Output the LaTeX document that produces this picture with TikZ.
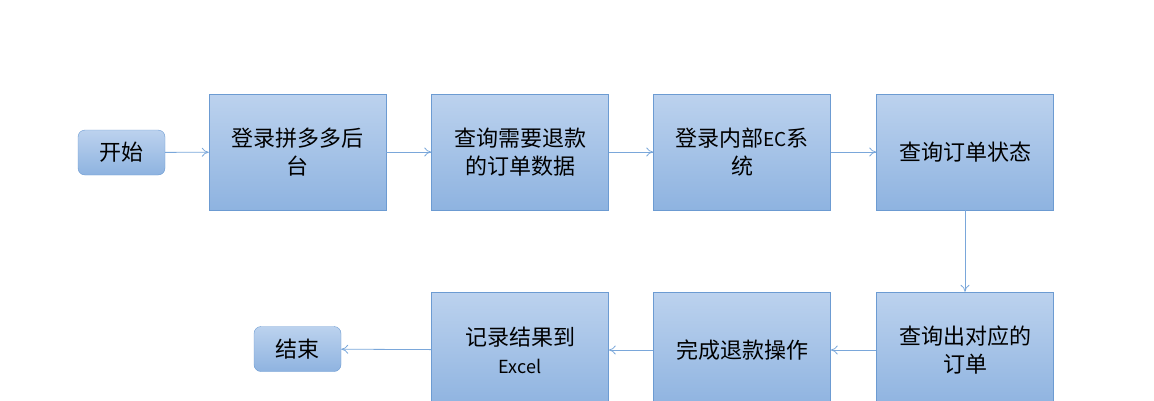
\documentclass[tikz,border=0pt]{standalone}
\usepackage{fontspec}
\setmainfont{Noto Sans CJK SC}
\usetikzlibrary{positioning,arrows.meta}
\definecolor{boxline}{HTML}{6C9BD2}
\definecolor{boxtop}{HTML}{BCD2EE}
\definecolor{boxbot}{HTML}{8EB3E0}
\definecolor{arrowcol}{HTML}{7AA7DA}
\tikzset{
  stepbox/.style={draw=boxline, top color=boxtop, bottom color=boxbot,
    minimum width=177pt, minimum height=116pt, align=center,
    font=\fontsize{22}{28}\selectfont, inner sep=2pt},
  endbox/.style={stepbox, rounded corners=7pt, minimum width=87pt, minimum height=45pt},
  flow/.style={draw=arrowcol, -{To[length=7pt,width=9pt]}, line width=0.8pt}
}
\begin{document}
\begin{tikzpicture}[x=1pt,y=-1pt]
\useasboundingbox (0,0) rectangle (1154,400);
\clip (0,0) rectangle (1154,400);

\node[endbox] (start) at (121.5,152.5) {开始};
\node[stepbox] (s1) at (297.5,152) {登录拼多多后\\台};
\node[stepbox] (s2) at (520,152) {查询需要退款\\的订单数据};
\node[stepbox] (s3) at (742,152) {登录内部{\fontsize{19}{24}\selectfont EC}系\\统};
\node[stepbox] (s4) at (965,152) {查询订单状态};
\node[stepbox] (s5) at (965,350) {查询出对应的\\订单};
\node[stepbox] (s6) at (742,350) {完成退款操作};
\node[stepbox] (s7) at (520,350) {记录结果到\\{\fontsize{18}{24}\selectfont Excel}};
\node[endbox] (stop) at (297.5,349) {结束};

\foreach \a/\b in {start/s1, s1/s2, s2/s3, s3/s4, s5/s6, s6/s7, s7/stop}
{
	\draw[flow] (\a) -- (\b);
};
\draw[flow] (s4) -- (s5);
\end{tikzpicture}
\end{document}
